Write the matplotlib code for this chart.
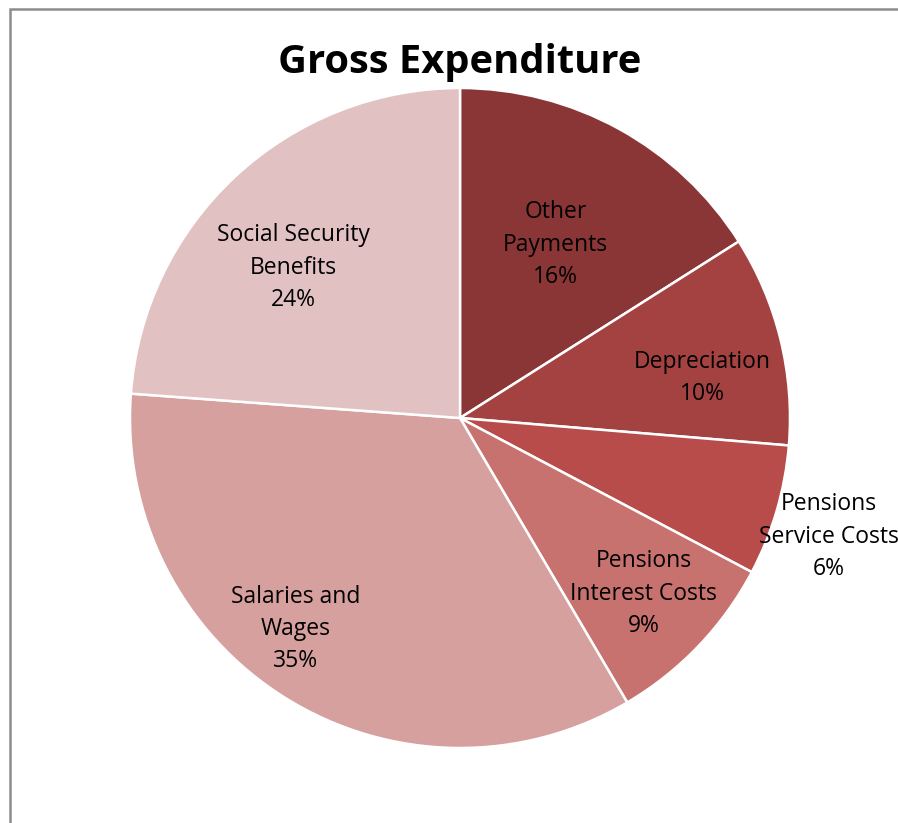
import matplotlib
matplotlib.use("Agg")
import matplotlib.pyplot as plt
import numpy as np
from matplotlib.patches import Rectangle

plt.rcParams['font.family'] = ['Open Sans', 'DejaVu Sans']

categories = ["Other\nPayments", "Depreciation", "Pensions\nService Costs",
              "Pensions\nInterest Costs", "Salaries and\nWages", "Social Security\nBenefits"]
values = [16.0, 10.3, 6.4, 8.8, 34.6, 23.8]
colors = ["#8B3636", "#A34241", "#B84C4A", "#C87270", "#D6A09F", "#E2C1C2"]

fig = plt.figure(figsize=(8.98, 8.23), dpi=100)
fig.patches.append(Rectangle((10/898, -0.1), 1.2, 1 - 9/823 + 0.1, transform=fig.transFigure,
                             fill=False, edgecolor="#8c8c8c", linewidth=1.8))
ax = fig.add_axes([130/898, 75/823, 660/898, 660/823])
wedges, _ = ax.pie(values, colors=colors, startangle=90, counterclock=False,
                   wedgeprops=dict(edgecolor="white", linewidth=1.8), radius=1.0)
ax.set_xlim(-1, 1)
ax.set_ylim(-1, 1)
ax.set_aspect('equal')
ax.axis('off')

radii = [0.60, 0.745, 1.175, 0.77, 0.81, 0.68]
ang_shift = [0, -4.5, -1.5, 0, -6, 5]
total = sum(values)
for w, lab, v, r, da in zip(wedges, categories, values, radii, ang_shift):
    mid = np.deg2rad((w.theta1 + w.theta2) / 2 + da)
    ax.text(r * np.cos(mid), r * np.sin(mid), f"{lab}\n{v / total * 100:.0f}%",
            ha="center", va="center", fontsize=16.5, linespacing=1.45, color="black",
            clip_on=False)

fig.text(460/898, 1 - 63/823, "Gross Expenditure", ha="center", va="center",
         fontsize=28.7, fontweight="bold")
fig.savefig("out.png", dpi=100)
